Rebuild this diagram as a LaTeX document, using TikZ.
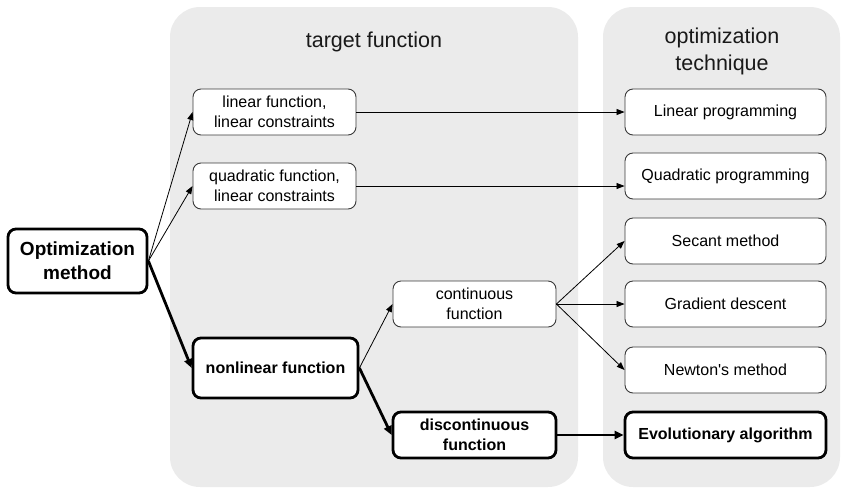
\documentclass[tikz,border=0pt]{standalone}
\usepackage{fontspec}
\setmainfont{Liberation Sans}
\usetikzlibrary{arrows.meta}
\definecolor{panelgrey}{HTML}{EBEBEB}
\definecolor{edgegrey}{HTML}{3A3A3A}
\tikzset{
  panel/.style={fill=panelgrey, draw=none, rounded corners=30pt},
  title/.style={font=\fontsize{21.5}{27}\selectfont, align=center, text=black!90},
  box/.style={draw=edgegrey, line width=0.9pt, fill=white, rounded corners=8pt,
    inner sep=0pt, align=center, font=\fontsize{16}{20}\selectfont,
    minimum height=46pt},
  boldbox/.style={box, draw=black, line width=2.8pt, font=\bfseries\fontsize{16}{20}\selectfont},
  leftbox/.style={box, minimum width=163pt},
  rightbox/.style={box, minimum width=201pt},
  link/.style={draw=black, line width=0.8pt, -{Triangle[length=8pt,width=6pt]}},
  boldlink/.style={draw=black, line width=2.8pt, -{Triangle[length=9pt,width=8pt]}},
}
\begin{document}
\begin{tikzpicture}[x=1pt,y=-1pt]
  \useasboundingbox (0,0) rectangle (842,488);
  % background panels
  \fill[panel] (170,7) rectangle (578,487);
  \fill[panel] (603,7) rectangle (840,487);
  \node[title] (tfun) at (374,42) {target function};
  \node[title] (otech) at (722,51) {optimization\\technique};

  % root
  \node[boldbox, minimum width=139pt, minimum height=64pt,
        font=\bfseries\fontsize{19}{24}\selectfont] (root) at (77.5,261) {Optimization\\method};

  % target function column
  \node[leftbox] (lin) at (274.5,112) {linear function,\\linear constraints};
  \node[leftbox] (quad) at (274.5,186) {quadratic function,\\linear constraints};
  \node[boldbox, minimum width=165pt, minimum height=60pt] (nonlin) at (275.5,368) {nonlinear function};
  \node[leftbox] (cont) at (474.5,304) {continuous\\function};
  \node[boldbox, minimum width=163pt] (disc) at (474.5,435) {discontinuous\\function};

  % technique column
  \node[rightbox] (lp) at (725.5,112) {Linear programming};
  \node[rightbox] (qp) at (725.5,176) {Quadratic programming};
  \node[rightbox] (sec) at (725.5,241) {Secant method};
  \node[rightbox] (grad) at (725.5,304) {Gradient descent};
  \node[rightbox] (newt) at (725.5,370) {Newton\textquotesingle s method};
  \node[boldbox, minimum width=201pt] (evo) at (725.5,435) {Evolutionary algorithm};

  % connectors
  \draw[link] (root.east) -- (lin.west);
  \draw[link] (root.east) -- (quad.west);
  \draw[boldlink] (root.east) -- (nonlin.west);
  \draw[link] (lin.east) -- (lp.west);
  \draw[link] (quad.east) -- (quad.east -| qp.west);
  \draw[link] (nonlin.east) -- (cont.west);
  \draw[boldlink] (nonlin.east) -- (disc.west);
  \draw[link] (cont.east) -- (sec.west);
  \draw[link] (cont.east) -- (grad.west);
  \draw[link] (cont.east) -- (newt.west);
  \draw[boldlink] (disc.east) -- (evo.west);
\end{tikzpicture}
\end{document}
